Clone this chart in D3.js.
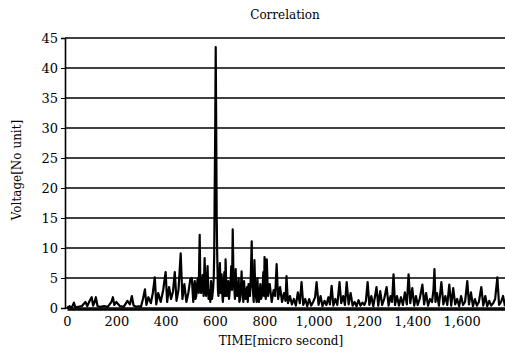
<!DOCTYPE html>
<html>
<head>
<meta charset="utf-8">
<script src="https://cdn.jsdelivr.net/npm/d3@7"></script>
<style>
  body { margin: 0; background: #fff; overflow: hidden; }
  svg { display: block; }
  text { font-family: "DejaVu Serif", "Liberation Serif", serif; fill: #000; }
</style>
</head>
<body>
<script>
//画布大小
var width = 505;
var height = 352;

const margin = {left: 65, right: 0, top: 38, bottom: 43};
const innerWidth = width - margin.left - margin.right;
const innerHeight = height - margin.top - margin.bottom;

//标题和坐标轴文字
var chartTitle = "Correlation";
var xTitle = "TIME[micro second]";
var yTitle = "Voltage[No unit]";

//刻度
var xTicks = [0, 200, 400, 600, 800, 1000, 1200, 1400, 1600];
var yTicks = [0, 5, 10, 15, 20, 25, 30, 35, 40, 45];

//时间 (micro second)
var time = [
  0, 5, 10, 20, 28, 34, 45, 60, 70, 75, 82, 92, 100, 106, 112, 117, 124, 135, 150, 165,
  180, 186, 192, 200, 215, 230, 245, 255, 263, 270, 280, 290, 300,
  308, 316, 322, 330, 340, 348, 356, 362, 370, 380, 390, 400, 406, 414, 422, 430, 437,
  444, 452, 461, 468, 476, 484, 492, 500, 506,
  512, 515, 518, 521, 524, 527, 530, 534, 538, 541,
  544, 547, 550, 554, 558, 561, 564, 567, 570, 574,
  578, 581, 584, 588, 592, 595, 597, 599, 601, 603,
  605, 607, 609, 612, 614, 617, 620, 623, 627, 630,
  632, 635, 638, 641, 643, 646, 648, 651, 654, 657,
  660, 663, 666, 669, 672, 675, 678, 681, 684, 687,
  690, 693, 696, 699, 702, 705, 708, 710, 712, 715,
  718, 721, 724, 727, 730, 733, 736, 739, 742, 745,
  749, 751, 754, 757, 760, 763, 766, 769, 772, 775,
  778, 781, 784, 787, 790, 793, 796, 799, 801, 804, 806,
  810, 815, 822, 830, 838, 844, 850, 856, 864, 872, 880, 886, 890, 896, 904, 912, 920,
  928, 936, 944, 951, 958, 966, 974, 982, 990, 998,
  1006, 1012, 1020, 1028, 1036, 1044, 1052, 1060, 1066, 1073, 1080, 1088, 1096, 1105,
  1112, 1120, 1127, 1134, 1142, 1150, 1158, 1166, 1174, 1182, 1190, 1198, 1206, 1212,
  1219, 1226, 1234, 1242, 1250, 1255, 1262, 1270, 1278, 1286, 1296,
  1304, 1312, 1318, 1324, 1330, 1338, 1346, 1354, 1362, 1370, 1378, 1385, 1392, 1400,
  1408, 1415, 1422, 1430, 1441, 1448, 1456, 1464, 1472, 1480, 1486, 1490, 1494, 1500,
  1508, 1518, 1526, 1534, 1542, 1550, 1558, 1566, 1574, 1582, 1590, 1598, 1606, 1614,
  1623, 1630, 1638, 1646, 1654, 1662, 1670, 1680, 1688, 1696, 1704, 1712, 1720, 1728,
  1736, 1745, 1752, 1760, 1768, 1776
];

//电压
var voltage = [
  0.2, 0.1, 0.3, 0.1, 0.9, 0.1, 0.2, 0.3, 0.8, 1.0, 0.3, 1.2, 1.8, 0.4, 1.0, 1.8, 0.3, 0.2, 0.3, 0.2,
  1.0, 1.8, 0.5, 1.0, 0.3, 0.2, 1.2, 0.6, 2.0, 0.4, 0.2, 0.3, 0.2,
  1.5, 3.1, 0.5, 1.8, 0.8, 2.5, 5.1, 0.6, 2.5, 1.0, 3.0, 6.0, 1.0, 3.5, 1.5, 2.8, 6.0,
  1.2, 3.0, 9.1, 1.5, 4.0, 1.0, 2.5, 4.8, 5.0,
  1.0, 3.5, 4.5, 1.5, 2.0, 3.8, 5.0, 2.5, 12.2, 3.0,
  2.5, 4.0, 5.5, 2.0, 8.3, 3.5, 2.0, 4.5, 7.0, 1.5,
  3.0, 1.0, 4.5, 1.5, 3.0, 5.0, 9.0, 20, 30, 43.5,
  30, 15, 9.0, 3.0, 2.0, 4.0, 7.5, 2.5, 5.6, 2.0,
  1.0, 3.0, 6.0, 2.0, 8.1, 3.5, 2.0, 3.0, 4.5, 1.5,
  3.0, 4.0, 7.0, 3.0, 13.1, 5.0, 3.5, 1.5, 6.5, 2.5,
  2.0, 3.5, 5.0, 1.0, 1.5, 3.0, 6.1, 3.0, 2.5, 1.0,
  4.5, 2.0, 1.5, 3.0, 3.5, 1.0, 4.0, 2.5, 2.0, 5.0,
  11.1, 4.0, 3.0, 1.0, 8.0, 3.5, 2.0, 1.0, 5.0, 2.5,
  1.0, 2.0, 4.0, 1.5, 2.0, 3.0, 6.0, 2.0, 8.5, 3.0, 1.5,
  8.1, 2.0, 4.0, 1.0, 3.0, 2.0, 7.3, 1.5, 3.5, 1.0, 2.5, 1.2, 5.3, 0.8, 2.0, 0.6, 1.5,
  0.4, 2.6, 0.8, 4.3, 0.5, 1.5, 0.3, 1.5, 0.4, 1.0,
  1.8, 4.3, 0.5, 2.0, 0.3, 1.2, 0.5, 1.8, 0.6, 3.7, 0.4, 1.5, 0.5, 4.3,
  0.8, 2.0, 0.5, 4.3, 0.6, 2.5, 0.4, 1.0, 0.3, 1.3, 0.4, 0.9, 0.5, 1.2,
  4.3, 0.5, 2.0, 0.3, 2.2, 3.5, 0.4, 2.8, 0.5, 1.5, 3.5,
  0.4, 2.0, 1.0, 5.6, 0.5, 2.0, 0.4, 1.8, 0.5, 2.6, 0.6, 5.6, 0.8, 3.3,
  0.4, 2.0, 0.5, 1.5, 3.9, 0.6, 2.5, 0.4, 1.5, 1.0, 3.0, 6.5, 1.0, 2.5,
  0.4, 4.3, 0.6, 2.0, 0.5, 3.9, 0.4, 3.3, 0.6, 1.5, 0.3, 2.0, 0.5, 1.0,
  4.5, 0.6, 2.6, 0.3, 1.5, 0.4, 1.0, 3.5, 0.4, 2.0, 0.3, 1.2, 0.4, 0.8,
  1.5, 5.1, 0.5, 1.0, 2.0, 0.3
];

var data = time.map((t, i) => ({t: t, v: voltage[i]}));

var svg = d3.select("body")
  .append("svg")
  .attr("width", width)
  .attr("height", height);

//比例尺
var xScale = d3.scaleLinear()
  .domain([0, 1776])
  .range([2, innerWidth]);

var yScale = d3.scaleLinear()
  .domain([0, 45])
  .range([innerHeight - 1, 0]);

const g = svg.append('g').attr('transform', `translate(${margin.left},${margin.top})`);

//网格线
g.selectAll(".grid")
  .data(yTicks)
  .enter()
  .append("line")
  .attr("class", "grid")
  .attr("x1", 0)
  .attr("x2", innerWidth)
  .attr("y1", d => yScale(d))
  .attr("y2", d => yScale(d))
  .attr("stroke", "#000")
  .attr("stroke-width", 1.6);

//y轴
var yAxis = d3.axisLeft(yScale).tickValues(yTicks).tickSize(4).tickPadding(3);
var yg = g.append("g").call(yAxis);
yg.select(".domain").attr("stroke-width", 1.6);
yg.selectAll("text").style("font-size", "13px");

//x轴
var xAxis = d3.axisBottom(xScale)
  .tickValues(xTicks)
  .tickSize(0)
  .tickPadding(8)
  .tickFormat(d3.format(","));
var xg = g.append("g").attr("transform", `translate(0,${innerHeight})`).call(xAxis);
xg.select(".domain").attr("stroke-width", 2.5);
xg.selectAll("text").style("font-size", "13px");

//折线
var line = d3.line()
  .x(d => xScale(d.t))
  .y(d => yScale(d.v));

g.append("path")
  .datum(data)
  .attr("d", line)
  .attr("fill", "none")
  .attr("stroke", "#000")
  .attr("stroke-width", 2.2)
  .attr("stroke-linejoin", "round");

//标题
svg.append("text")
  .attr("x", 285)
  .attr("y", 19)
  .attr("text-anchor", "middle")
  .style("font-size", "12px")
  .text(chartTitle);

svg.append("text")
  .attr("x", 281)
  .attr("y", 345)
  .attr("text-anchor", "middle")
  .style("font-size", "12px")
  .text(xTitle);

svg.append("text")
  .attr("transform", "translate(21,170) rotate(-90)")
  .attr("text-anchor", "middle")
  .style("font-size", "12px")
  .text(yTitle);
</script>
</body>
</html>
